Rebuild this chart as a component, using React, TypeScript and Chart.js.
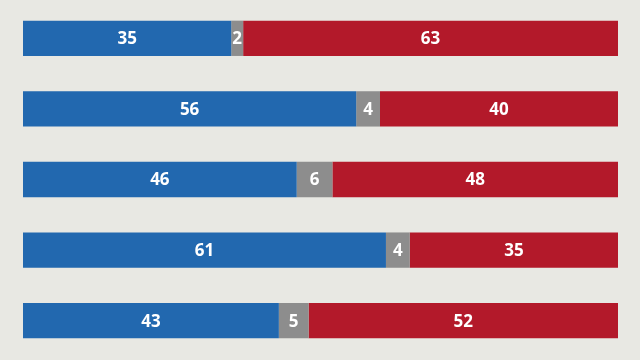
import React, { useEffect, useRef } from "react";
import { Chart, registerables } from "chart.js";

Chart.register(...registerables);

const categories = ["A", "B", "C", "D", "E"];
const blueValues = [35, 56, 46, 61, 43];
const grayValues = [2, 4, 6, 4, 5];
const redValues = [63, 40, 48, 35, 52];

const labelPlugin = {
  id: "segLabels",
  afterDatasetsDraw(chart: any) {
    const ctx = chart.ctx;
    ctx.save();
    ctx.fillStyle = "#ffffff";
    ctx.font = "bold 17px 'Open Sans', 'DejaVu Sans', sans-serif";
    ctx.textAlign = "center";
    ctx.textBaseline = "middle";
    chart.data.datasets.forEach((ds: any, di: number) => {
      const meta = chart.getDatasetMeta(di);
      meta.data.forEach((el: any, i: number) => {
        const v = ds.data[i];
        const x = (el.x + el.base) / 2;
        ctx.fillText(String(v), x, el.y + 1);
      });
    });
    ctx.restore();
  },
};

export default function App() {
  const ref = useRef<HTMLCanvasElement>(null);
  useEffect(() => {
    if (!ref.current) return;
    const chart = new Chart(ref.current, {
      type: "bar",
      data: {
        labels: categories,
        datasets: [
          { data: blueValues, backgroundColor: "#2268af" },
          { data: grayValues, backgroundColor: "#8d8d8d" },
          { data: redValues, backgroundColor: "#b3192a" },
        ],
      },
      options: {
        indexAxis: "y",
        responsive: false,
        animation: false,
        layout: { padding: { left: 23, right: 22, top: 3, bottom: 4 } },
        datasets: { bar: { barPercentage: 0.5, categoryPercentage: 1 } },
        scales: {
          x: { stacked: true, min: 0, max: 100, display: false },
          y: { stacked: true, display: false },
        },
        plugins: { legend: { display: false }, tooltip: { enabled: false } },
      },
      plugins: [labelPlugin],
    });
    return () => chart.destroy();
  }, []);
  return (
    <div style={{ position: "fixed", left: 0, top: 0, width: 640, height: 360, background: "#e8e8e3" }}>
      <canvas ref={ref} width={640} height={360} style={{ display: "block" }} />
    </div>
  );
}
